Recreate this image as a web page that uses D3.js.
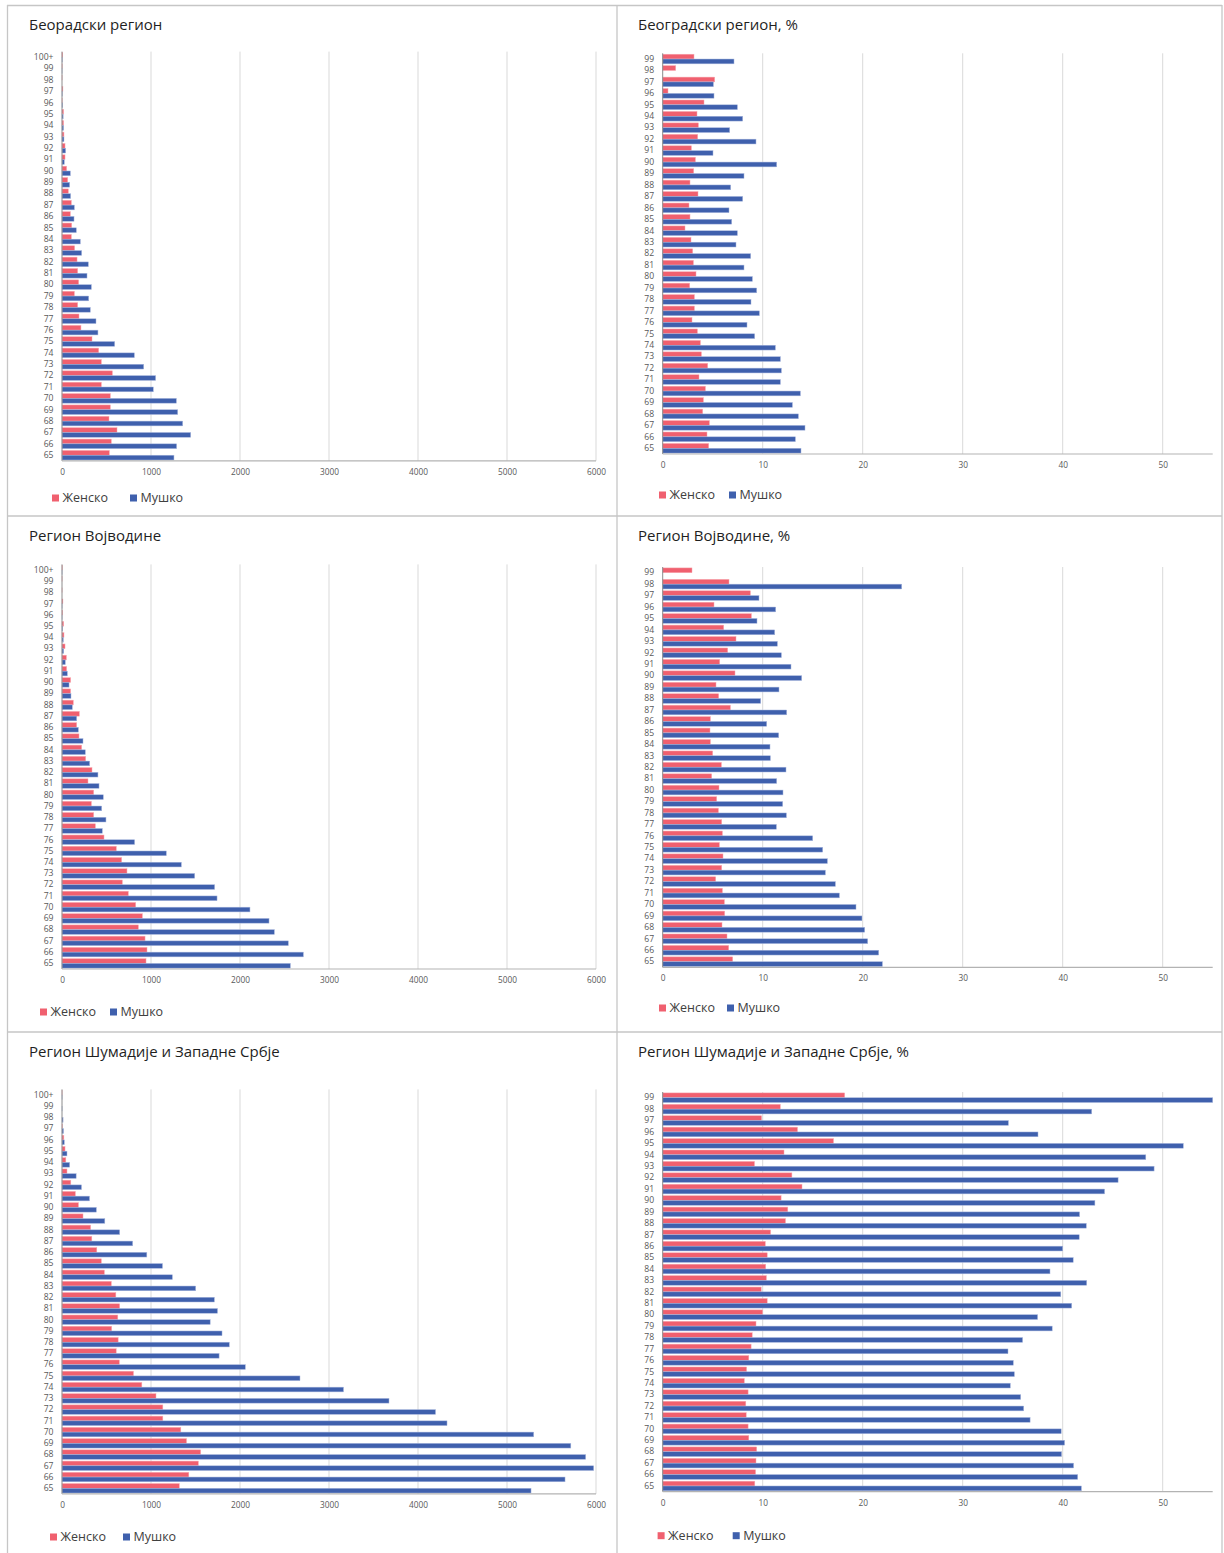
<!DOCTYPE html>
<html>
<head>
<meta charset="utf-8">
<script src="https://cdn.jsdelivr.net/npm/d3@7"></script>
<style>
  html, body { margin: 0; padding: 0; background: #fff; }
  svg { display: block; font-family: "Open Sans", "Noto Sans", sans-serif; }
</style>
</head>
<body>
<svg id="chart" width="1224" height="1553"></svg>
<script>
// Age groups, youngest first (65 … 100+)
const agesFull = ["65","66","67","68","69","70","71","72","73","74","75","76","77","78","79","80","81","82","83","84","85","86","87","88","89","90","91","92","93","94","95","96","97","98","99","100+"];
const agesPct  = ["65","66","67","68","69","70","71","72","73","74","75","76","77","78","79","80","81","82","83","84","85","86","87","88","89","90","91","92","93","94","95","96","97","98","99"];

const seriesNames = ["Женско", "Мушко"];
const ticksCount = [0, 1000, 2000, 3000, 4000, 5000, 6000];
const ticksPct = [0, 10, 20, 30, 40, 50];

// Београдски регион — counts
const belgradeF = [532,554,618,528,543,543,442,566,442,412,337,213,191,176,139,187,176,169,142,105,109,94,105,71,64,52,34,34,22,18,18,2,10,1,2,8];
const belgradeM = [1258,1288,1446,1356,1300,1285,1026,1052,918,813,592,404,382,318,300,330,281,296,221,206,161,135,139,97,86,94,26,41,22,18,13,6,3,0,1,3];
// Београдски регион — %
const belgradePctF = [4.6,4.43,4.67,4.0,4.07,4.27,3.63,4.5,3.87,3.77,3.47,2.93,3.17,3.17,2.7,3.33,3.07,3.0,2.83,2.23,2.73,2.63,3.53,2.73,3.1,3.27,2.87,3.5,3.57,3.43,4.13,0.53,5.2,1.3,3.13];
const belgradePctM = [13.83,13.27,14.23,13.57,12.97,13.77,11.77,11.87,11.77,11.27,9.2,8.43,9.67,8.83,9.4,8.97,8.13,8.8,7.33,7.47,6.9,6.63,8.0,6.8,8.13,11.4,5.03,9.33,6.7,8.0,7.47,5.13,5.07,0,7.13];

// Регион Војводине — counts
const vojvodinaF = [944,955,933,858,903,828,745,678,730,670,610,472,375,356,330,356,292,337,266,221,191,165,195,127,97,97,52,49,34,22,19,6,10,1,1,3];
const vojvodinaM = [2566,2712,2543,2386,2326,2112,1742,1715,1491,1341,1172,816,453,494,446,464,416,404,311,262,236,184,165,116,101,79,60,37,19,15,6,1,1,0,0,1];
// Регион Војводине — %
const vojvodinaPctF = [7.0,6.6,6.43,5.93,6.2,6.17,5.97,5.3,5.9,6.03,5.67,5.97,5.9,5.57,5.4,5.63,4.9,5.87,5.0,4.77,4.73,4.77,6.77,5.6,5.33,7.23,5.7,6.5,7.33,6.1,8.87,5.13,8.77,6.63,2.93];
const vojvodinaPctM = [21.97,21.6,20.5,20.2,19.93,19.33,17.67,17.27,16.27,16.47,16.0,15.0,11.37,12.37,12.0,12.03,11.4,12.33,10.77,10.73,11.6,10.4,12.4,9.8,11.63,13.9,12.83,11.87,11.47,11.2,9.43,11.3,9.63,23.9,0];

// Регион Шумадије и Западне Србје — counts
const sumadijaF = [1318,1425,1532,1558,1399,1335,1133,1133,1056,897,803,644,609,631,558,627,648,605,554,476,442,391,335,322,236,185,150,99,56,43,34,21,4,0,0,1];
const sumadijaM = [5270,5652,5974,5884,5717,5300,4326,4197,3674,3163,2674,2060,1765,1880,1798,1665,1747,1712,1502,1240,1129,953,794,648,481,386,309,219,159,86,56,26,17,12,1,1];
// Регион Шумадије и Западне Србје — %
const sumadijaPctF = [9.21,9.29,9.33,9.4,8.61,8.54,8.35,8.31,8.54,8.16,8.39,8.61,8.84,8.95,9.33,10.0,10.45,9.85,10.37,10.3,10.45,10.26,10.79,12.28,12.51,11.84,13.93,12.92,9.18,12.13,17.08,13.48,9.89,11.76,18.2];
const sumadijaPctM = [41.87,41.5,41.09,39.89,40.19,39.85,36.74,36.1,35.8,34.76,35.17,35.06,34.53,35.99,38.95,37.49,40.9,39.81,42.4,38.73,41.05,40.0,41.65,42.36,41.69,43.22,44.19,45.54,49.14,48.31,52.06,37.53,34.57,42.9,55.0];

const colors = { f: "#F0606F", m: "#3F60AD" };

// Panel layout: plot frame, title and legend placement
const panels = [
  { title: "Беорадски регион", ages: agesFull, f: belgradeF, m: belgradeM, max: 6000, ticks: ticksCount,
    x0: 62, x1: 596, yTop: 51.6, yBot: 460.9, tx: 29, ty: 30, ly: 498, lx: [52, 130] },
  { title: "Београдски регион, %", ages: agesPct, f: belgradePctF, m: belgradePctM, max: 55, ticks: ticksPct,
    x0: 662.7, x1: 1212.7, yTop: 53.3, yBot: 454, tx: 638, ty: 30, ly: 495, lx: [659, 729] },
  { title: "Регион Војводине", ages: agesFull, f: vojvodinaF, m: vojvodinaM, max: 6000, ticks: ticksCount,
    x0: 62, x1: 596, yTop: 564.4, yBot: 969, tx: 29, ty: 541, ly: 1012, lx: [40, 110] },
  { title: "Регион Војводине, %", ages: agesPct, f: vojvodinaPctF, m: vojvodinaPctM, max: 55, ticks: ticksPct,
    x0: 662.7, x1: 1212.7, yTop: 567, yBot: 967.4, tx: 638, ty: 541, ly: 1008, lx: [659, 727] },
  { title: "Регион Шумадије и Западне Србје", ages: agesFull, f: sumadijaF, m: sumadijaM, max: 6000, ticks: ticksCount,
    x0: 62, x1: 596, yTop: 1089.4, yBot: 1493.9, tx: 29, ty: 1057, ly: 1537, lx: [50, 123] },
  { title: "Регион Шумадије и Западне Србје, %", ages: agesPct, f: sumadijaPctF, m: sumadijaPctM, max: 55, ticks: ticksPct,
    x0: 662.7, x1: 1212.7, yTop: 1092, yBot: 1491.7, tx: 638, ty: 1057, ly: 1535.7, lx: [657.6, 732.7] }
];

const svg = d3.select("#chart");

// Cell borders of the 2 x 3 grid
const frame = svg.append("g").attr("stroke", "#c6c6c6").attr("stroke-width", 1.3).attr("fill", "none");
frame.append("line").attr("x1", 7).attr("x2", 1222).attr("y1", 5.5).attr("y2", 5.5);
frame.append("line").attr("x1", 7).attr("x2", 1222).attr("y1", 516).attr("y2", 516);
frame.append("line").attr("x1", 7).attr("x2", 1222).attr("y1", 1032).attr("y2", 1032);
frame.append("line").attr("x1", 7.5).attr("x2", 7.5).attr("y1", 5).attr("y2", 1553);
frame.append("line").attr("x1", 617).attr("x2", 617).attr("y1", 5).attr("y2", 1553);
frame.append("line").attr("x1", 1222).attr("x2", 1222).attr("y1", 5).attr("y2", 1553);

panels.forEach(p => {
  const g = svg.append("g");
  const rows = p.ages.map((a, i) => ({ age: a, f: p.f[i], m: p.m[i] }));

  const x = d3.scaleLinear().domain([0, p.max]).range([p.x0, p.x1]);
  const y = d3.scaleBand().domain(p.ages.slice().reverse())
    .range([p.yTop, p.yBot]).paddingInner(0.16).paddingOuter(0.08);
  const sub = d3.scaleBand().domain(["f", "m"]).range([0, y.bandwidth()]);

  // Title
  g.append("text").attr("x", p.tx).attr("y", p.ty)
    .attr("font-size", 15).attr("fill", "#1f1f1f").text(p.title);

  // Vertical gridlines
  g.append("g").selectAll("line").data(p.ticks.filter(t => t > 0)).join("line")
    .attr("x1", d => x(d)).attr("x2", d => x(d))
    .attr("y1", p.yTop).attr("y2", p.yBot)
    .attr("stroke", "#d9d9d9").attr("stroke-width", 1);

  // Bars
  const grp = g.append("g").selectAll("g").data(rows).join("g")
    .attr("transform", d => `translate(0,${y(d.age)})`);
  ["f", "m"].forEach(k => {
    grp.append("rect")
      .attr("x", x(0)).attr("y", sub(k))
      .attr("width", d => Math.max(0, x(d[k]) - x(0)))
      .attr("height", sub.bandwidth())
      .attr("fill", colors[k])
      .attr("stroke", k === "f" ? "#f7aab2" : "#a9b8de")
      .attr("stroke-width", 0.5);
  });

  // Category axis
  const yAxis = d3.axisLeft(y).tickSize(0).tickPadding(8.5);
  const ya = g.append("g").attr("transform", `translate(${p.x0},0)`).call(yAxis);
  ya.select(".domain").remove();
  ya.selectAll("text").attr("font-size", 8.6).attr("fill", "#595959")
    .attr("font-family", "'Open Sans', sans-serif");
  g.append("line").attr("x1", p.x0).attr("x2", p.x0).attr("y1", p.yTop).attr("y2", p.yBot)
    .attr("stroke", "#8c8c8c").attr("stroke-width", 1);

  // Value axis
  const xAxis = d3.axisBottom(x).tickValues(p.ticks).tickSize(0).tickPadding(8)
    .tickFormat(d3.format("d"));
  const xa = g.append("g").attr("transform", `translate(0,${p.yBot})`).call(xAxis);
  xa.select(".domain").remove();
  xa.selectAll("text").attr("font-size", 8.3).attr("fill", "#595959")
    .attr("font-family", "'Open Sans', sans-serif");
  g.append("line").attr("x1", p.x0).attr("x2", p.x1).attr("y1", p.yBot).attr("y2", p.yBot)
    .attr("stroke", "#b3b3b3").attr("stroke-width", 1.2);

  // Legend
  const lg = g.append("g").selectAll("g").data(seriesNames).join("g")
    .attr("transform", (d, i) => `translate(${p.lx[i]},${p.ly})`);
  lg.append("rect").attr("x", 0).attr("y", -3.5).attr("width", 7).attr("height", 7)
    .attr("fill", (d, i) => i === 0 ? colors.f : colors.m);
  lg.append("text").attr("x", 10.5).attr("y", 0).attr("dy", "0.35em")
    .attr("font-size", 12.5).attr("fill", "#404040").text(d => d);
});
</script>
</body>
</html>
